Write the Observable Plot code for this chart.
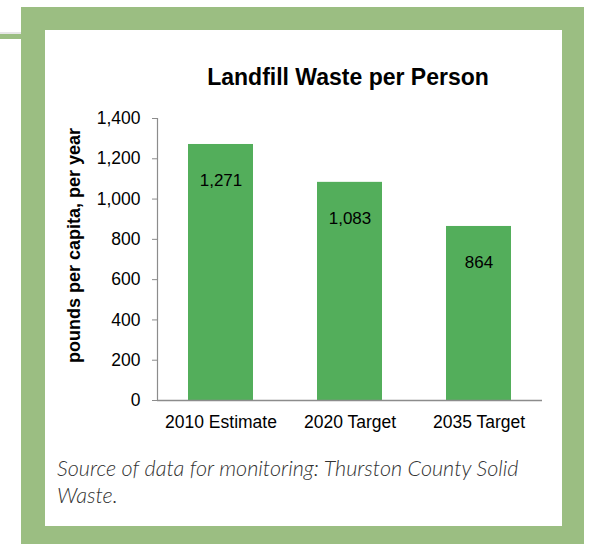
<!DOCTYPE html>
<html>
<head>
<meta charset="utf-8">
<script src="https://cdn.jsdelivr.net/npm/d3@7"></script>
<script src="https://cdn.jsdelivr.net/npm/@observablehq/plot@0.6"></script>
<style>
  html, body { margin: 0; padding: 0; background: #fff; }
  #wrap { position: relative; width: 589px; height: 544px; overflow: hidden; font-family: "Liberation Sans", Arial, sans-serif; }
  .green { position: absolute; background: #9bbe82; }
  #outer { left: 21px; top: 7px; width: 563px; height: 537px; }
  #tab { left: 0; top: 34px; width: 21px; height: 5px; }
  #tabshade { position: absolute; left: 0; top: 32px; width: 21px; height: 2px; background: #e6e6e6; }
  #panel { position: absolute; left: 45px; top: 30px; width: 517px; height: 496px; background: #fff; }
  #title { position: absolute; left: 148px; top: 64px; width: 400px; text-align: center; font-weight: bold; font-size: 23px; line-height: 26px; color: #000; }
  #chart { position: absolute; left: 45px; top: 100px; }
  #caption { position: absolute; left: 57px; top: 455px; width: 490px; font-family: Lato, "Open Sans", sans-serif; font-style: italic; font-weight: 300; font-size: 21.6px; line-height: 27px; color: #333; }
</style>
</head>
<body>
<div id="wrap">
  <div id="tabshade"></div>
  <div class="green" id="tab"></div>
  <div class="green" id="outer"></div>
  <div id="panel"></div>
  <div id="title"></div>
  <div id="chart"></div>
  <div id="caption"></div>
</div>
<script>
const titleText = "Landfill Waste per Person";
const yLabel = "pounds per capita, per year";
const captionText = "Source of data for monitoring: Thurston County Solid Waste.";
const categories = ["2010 Estimate", "2020 Target", "2035 Target"];
const values = [1271, 1083, 864];
const yTicks = [0, 200, 400, 600, 800, 1000, 1200, 1400];

document.getElementById("title").textContent = titleText;
document.getElementById("caption").textContent = captionText;

const data = categories.map((c, i) => ({category: c, value: values[i]}));
const fmt = d3.format(",");

const chart = Plot.plot({
  width: 517,
  height: 340,
  marginTop: 18,
  marginBottom: 40,
  marginLeft: 112,
  marginRight: 20,
  style: {fontFamily: "'Liberation Sans', Arial, sans-serif", fontSize: "17.5px", color: "#000", background: "transparent", overflow: "visible"},
  x: {domain: categories, paddingInner: 0.5, paddingOuter: 0.24, label: null},
  y: {domain: [0, 1400], label: null},
  marks: [
    Plot.barY(data, {x: "category", y: "value", fill: "#53ae5b"}),
    Plot.frame({anchor: "left", stroke: "#8c8c8c", strokeWidth: 1.2}),
    Plot.ruleY([0], {stroke: "#8c8c8c", strokeWidth: 1.3}),
    Plot.axisY({ticks: yTicks, tickFormat: fmt, tickSize: 5, tickPadding: 12, stroke: "#8c8c8c", fill: "#000", label: null}),
    Plot.axisX({tickSize: 0, tickPadding: 15, fill: "#000", label: null}),
    Plot.text(data, {x: "category", y: "value", text: d => fmt(d.value), dy: 36, fontSize: 17, fill: "#000"}),
    Plot.text([yLabel], {frameAnchor: "left", textAnchor: "middle", text: d => d, rotate: -90, dx: -83, dy: -14, fontWeight: "bold", fontSize: 18, fill: "#000"})
  ]
});
document.getElementById("chart").appendChild(chart);
</script>
</body>
</html>
